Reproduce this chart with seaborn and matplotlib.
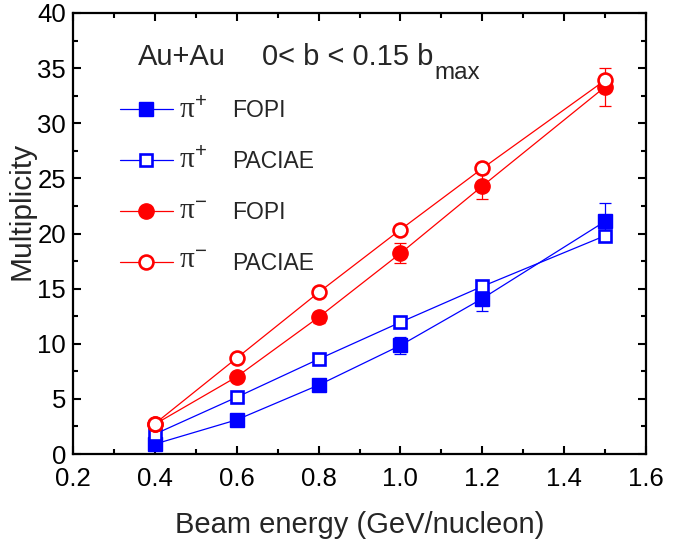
import matplotlib
matplotlib.use("Agg")
import matplotlib.pyplot as plt
import seaborn as sns
import pandas as pd
from matplotlib.ticker import MultipleLocator

# ---- data ----
energy = [0.4, 0.6, 0.8, 1.0, 1.2, 1.5]
pip_fopi = [0.9, 3.1, 6.25, 9.85, 14.1, 21.1]
pip_fopi_err = [0.15, 0.25, 0.35, 0.8, 1.15, 1.7]
pip_paciae = [1.8, 5.15, 8.6, 11.95, 15.2, 19.8]
pip_paciae_err = [0.1, 0.15, 0.2, 0.25, 0.35, 0.4]
pim_fopi = [2.7, 7.0, 12.4, 18.2, 24.3, 33.3]
pim_fopi_err = [0.2, 0.35, 0.5, 0.9, 1.15, 1.7]
pim_paciae = [2.75, 8.7, 14.65, 20.35, 25.9, 33.9]
pim_paciae_err = [0.1, 0.15, 0.2, 0.25, 0.3, 0.4]

particles = [r"$\pi^{+}$", r"$\pi^{+}$", r"$\pi^{-}$", r"$\pi^{-}$"]
sources = ["FOPI", "PACIAE", "FOPI", "PACIAE"]

sns.set_style("ticks")
plt.rcParams["font.family"] = ["Liberation Sans", "DejaVu Sans"]
plt.rcParams["mathtext.fontset"] = "custom"
plt.rcParams["mathtext.rm"] = "Liberation Sans"
plt.rcParams["mathtext.it"] = "Liberation Serif"
plt.rcParams["mathtext.bf"] = "Liberation Sans:bold"

BLUE = "#0000FF"
RED = "#FF0000"

fig = plt.figure(figsize=(6.98, 5.48), dpi=100)
ax = fig.add_axes([73 / 698, 1 - 454 / 548, 573 / 698, 441 / 548])


def axx(px):
    return (px - 73) / 573


def axy(py):
    return 1 - (py - 13) / 441


series = [
    (pip_fopi, pip_fopi_err, BLUE, "s", True, 9.5),
    (pip_paciae, pip_paciae_err, BLUE, "s", False, 9),
    (pim_fopi, pim_fopi_err, RED, "o", True, 11),
    (pim_paciae, pim_paciae_err, RED, "o", False, 10),
]

handles = []
for vals, errs, col, mk, filled, ms in series:
    df = pd.DataFrame({"E": energy, "M": vals})
    ax.errorbar(energy, vals, yerr=errs, fmt="none", ecolor=col,
                elinewidth=0.9, capsize=4.5, capthick=0.9, zorder=2)
    sns.lineplot(data=df, x="E", y="M", ax=ax, color=col, linewidth=0.9,
                 marker=mk, markersize=ms,
                 markerfacecolor=col if filled else "white",
                 markeredgecolor=col, markeredgewidth=1.9 if not filled else 1.0,
                 legend=False, zorder=3)
    handles.append(ax.lines[-1])

ax.set_xlim(0.2, 1.6)
ax.set_ylim(0, 40)
ax.xaxis.set_major_locator(MultipleLocator(0.2))
ax.xaxis.set_minor_locator(MultipleLocator(0.1))
ax.yaxis.set_major_locator(MultipleLocator(5))
ax.yaxis.set_minor_locator(MultipleLocator(2.5))
ax.set_xticks([0.2, 0.4, 0.6, 0.8, 1.0, 1.2, 1.4, 1.6])
ax.set_xticklabels(["0.2", "0.4", "0.6", "0.8", "1.0", "1.2", "1.4", "1.6"])

for s in ax.spines.values():
    s.set_visible(True)
    s.set_linewidth(1.6)
    s.set_color("black")
ax.tick_params(which="both", direction="in", top=True, right=True,
               labelsize=18.5, colors="black", width=1.5)
ax.tick_params(axis="x", which="both", pad=9)
ax.tick_params(axis="y", which="both", pad=5)
ax.tick_params(which="major", length=6)
ax.tick_params(which="minor", length=3.5)

ax.set_xlabel("Beam energy (GeV/nucleon)", fontsize=21, labelpad=15)
ax.set_ylabel("Multiplicity", fontsize=21.5)
ax.yaxis.set_label_coords(axx(35), axy(211))

ax.text(axx(138), axy(57), "Au+Au", transform=ax.transAxes,
        fontsize=21, va="center", ha="left")
t = ax.text(axx(262), axy(57), "0< b < 0.15 b", transform=ax.transAxes,
            fontsize=21, va="center", ha="left")
ax.annotate("max", xy=(1, 0), xycoords=t, xytext=(1, -6),
            textcoords="offset points", fontsize=17.5, va="baseline", ha="left")

leg = ax.legend(handles, sources, loc="upper left",
                bbox_to_anchor=(axx(120), axy(99)),
                frameon=False, fontsize=16.5, handlelength=2.3,
                handletextpad=2.6, labelspacing=1.22, borderpad=0,
                borderaxespad=0)

row_y = [118, 168, 219, 268]
for lab, yb in zip(particles, row_y):
    ax.text(axx(179), axy(yb), lab, transform=ax.transAxes, fontsize=21,
            va="baseline", ha="left")

fig.savefig("out.png", dpi=100)
